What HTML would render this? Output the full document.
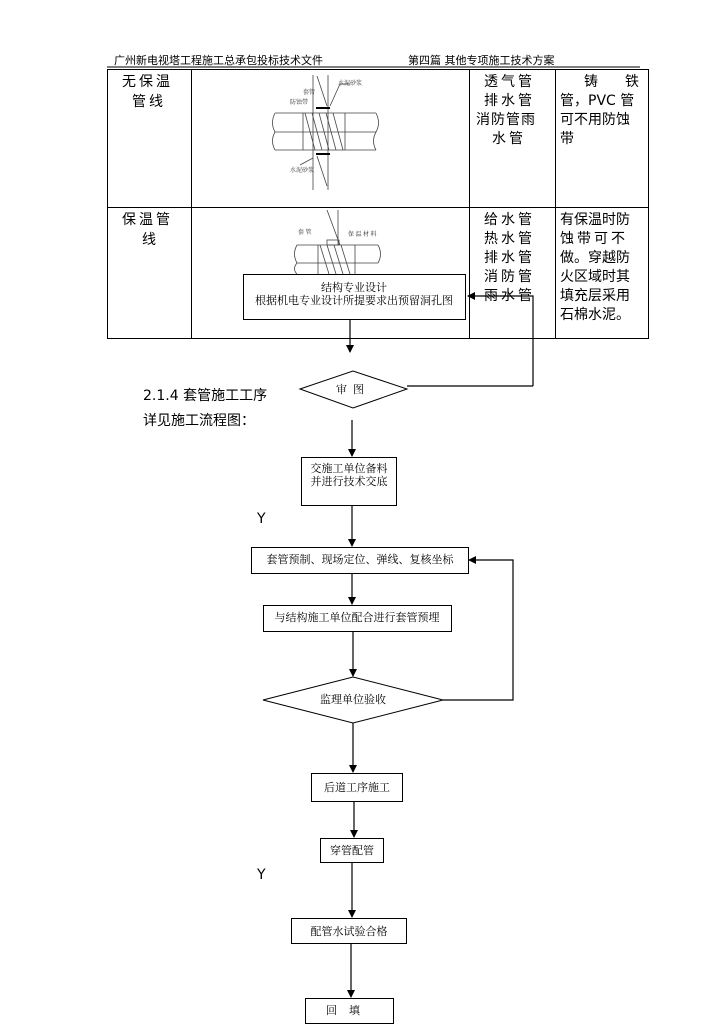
<!DOCTYPE html>
<html><head><meta charset="utf-8"><style>
body{margin:0;background:#fff;}
svg text{font-family:"Liberation Serif","Noto Serif CJK SC",serif;}
svg text.s, svg .s text{font-family:"DejaVu Sans","Noto Sans CJK SC",sans-serif;}
</style></head><body>
<svg width="724" height="1024" viewBox="0 0 724 1024" xmlns="http://www.w3.org/2000/svg">
<defs><marker id="a" markerWidth="8" markerHeight="8" refX="7" refY="4" orient="auto" markerUnits="userSpaceOnUse"><path d="M0,0 L8,4 L0,8z" fill="#000"/></marker></defs>
<g class="s" font-size="11" fill="#000">
<text x="114" y="64">广州新电视塔工程施工总承包投标技术文件</text>
<text x="408" y="64">第四篇 其他专项施工技术方案</text>
</g>
<line x1="107" y1="67" x2="640" y2="67" stroke="#555" stroke-width="1.5"/>
<g stroke="#000" stroke-width="1" fill="none">
<rect x="107.5" y="69.5" width="541" height="269"/>
<line x1="191.5" y1="69" x2="191.5" y2="339"/>
<line x1="469.5" y1="69" x2="469.5" y2="339"/>
<line x1="555.5" y1="69" x2="555.5" y2="339"/>
<line x1="107" y1="207.5" x2="648" y2="207.5"/>
</g>
<g class="s" font-size="14" fill="#000">
<text x="122" y="86" letter-spacing="3">无保温</text>
<text x="132" y="106" letter-spacing="3">管线</text>
<text x="122" y="224" letter-spacing="3">保温管</text>
<text x="142" y="244">线</text>
<text x="484" y="86" letter-spacing="3">透气管</text>
<text x="484" y="105" letter-spacing="3">排水管</text>
<text x="476" y="124" letter-spacing="1">消防管雨</text>
<text x="492" y="143" letter-spacing="3">水管</text>
<text x="584" y="86">铸</text><text x="625" y="86">铁</text>
<text x="560" y="105">管，PVC 管</text>
<text x="560" y="124">可不用防蚀</text>
<text x="560" y="143">带</text>
<text x="484" y="224" letter-spacing="3">给水管</text>
<text x="484" y="243" letter-spacing="3">热水管</text>
<text x="484" y="262" letter-spacing="3">排水管</text>
<text x="484" y="281" letter-spacing="3">消防管</text>
<text x="484" y="300" letter-spacing="3">雨水管</text>
<text x="560" y="224">有保温时防</text>
<text x="560" y="243" letter-spacing="3">蚀带可不</text>
<text x="560" y="262">做。穿越防</text>
<text x="560" y="281">火区域时其</text>
<text x="560" y="300">填充层采用</text>
<text x="560" y="319">石棉水泥。</text>
</g>
<g stroke="#444" stroke-width="0.8" fill="none">
<path d="M313,75 L313,190 M328,75 L328,190"/>
<path d="M275,113 H376 M275,132 H376 M275,150 H376"/>
<path d="M275,113 q-5,10 0,19 q-5,9 0,18 M376,113 q5,10 0,19 M376,132 q-5,9 0,18"/>
<path d="M303,113 V150 M345,113 V150"/>
<path d="M305,113 l10,37 M312,113 l10,37 M319,113 l10,37 M326,113 l10,37 M333,113 l10,37"/>
<path d="M317,76 l10,30 M317,156 l10,30"/>
<line x1="316" y1="108" x2="330" y2="108" stroke="#000" stroke-width="2"/>
<line x1="316" y1="154" x2="330" y2="154" stroke="#000" stroke-width="2"/>
<path d="M330,106 L340,84 H350"/>
<path d="M300,165 L313,158"/>
</g>
<g font-size="6" fill="#333"><text x="338" y="85">水泥砂浆</text><text x="303" y="94">套管</text><text x="290" y="104">防蚀带</text><text x="290" y="172">水泥砂浆</text></g>
<g stroke="#444" stroke-width="0.8" fill="none">
<path d="M327,210 L340,245 M338,210 L338,245"/>
<path d="M297,245 H378 M297,263 H378"/>
<path d="M297,245 q-5,9 0,18 q-5,6 0,11 M378,245 q5,9 0,18"/>
<path d="M318,245 V274 M355,245 V274"/>
<path d="M320,245 l9,29 M327,245 l9,29 M334,245 l9,29 M341,245 l9,29"/>
<rect x="327" y="240" width="12" height="5"/>
</g>
<g font-size="6" fill="#333"><text x="298" y="234">套 管</text><text x="348" y="236">保 温 材 料</text></g>
<g stroke="#000" stroke-width="1" fill="#fff">
<rect x="243.5" y="274.5" width="222" height="45"/>
<polygon points="300,389 353,371 407,389 353,408"/>
<rect x="301.5" y="457.5" width="95" height="48"/>
<rect x="251.5" y="547.5" width="217" height="26"/>
<rect x="263.5" y="605.5" width="188" height="26"/>
<polygon points="263,700 353,677 443,700 353,723"/>
<rect x="311.5" y="773.5" width="91" height="28"/>
<rect x="320.5" y="838.5" width="63" height="24"/>
<rect x="291.5" y="918.5" width="115" height="25"/>
<rect x="305.5" y="998.5" width="88" height="25"/>
</g>
<g stroke="#000" stroke-width="1.2" fill="none">
<path d="M533,386 V296 H468" marker-end="url(#a)"/>
<path d="M407,386 H533"/>
<path d="M350,319 V352" marker-end="url(#a)"/>
<path d="M352,420 V456" marker-end="url(#a)"/>
<path d="M352,505 V546" marker-end="url(#a)"/>
<path d="M443,700 H513 V560 H469" marker-end="url(#a)"/>
<path d="M352,573 V604" marker-end="url(#a)"/>
<path d="M353,631 V676" marker-end="url(#a)"/>
<path d="M353,723 V772" marker-end="url(#a)"/>
<path d="M354,801 V837" marker-end="url(#a)"/>
<path d="M352,862 V917" marker-end="url(#a)"/>
<path d="M351,943 V997" marker-end="url(#a)"/>
</g>
<g font-size="11" fill="#000" text-anchor="middle">
<text x="354" y="291">结构专业设计</text>
<text x="354" y="304">根据机电专业设计所提要求出预留洞孔图</text>
<text x="353" y="393" letter-spacing="6">审图</text>
<text x="349" y="472">交施工单位备料</text>
<text x="349" y="485">并进行技术交底</text>
<text x="360" y="563">套管预制、现场定位、弹线、复核坐标</text>
<text x="357" y="621">与结构施工单位配合进行套管预埋</text>
<text x="353" y="703">监理单位验收</text>
<text x="357" y="791">后道工序施工</text>
<text x="352" y="854">穿管配管</text>
<text x="349" y="935">配管水试验合格</text>
<text x="349" y="1014" letter-spacing="12">回填</text>
</g>
<g class="s" font-size="14" fill="#000">
<text x="143" y="400">2.1.4 套管施工工序</text>
<text x="143" y="425">详见施工流程图：</text>
<text x="257" y="523">Y</text>
<text x="257" y="879">Y</text>
</g>
</svg>
</body></html>
